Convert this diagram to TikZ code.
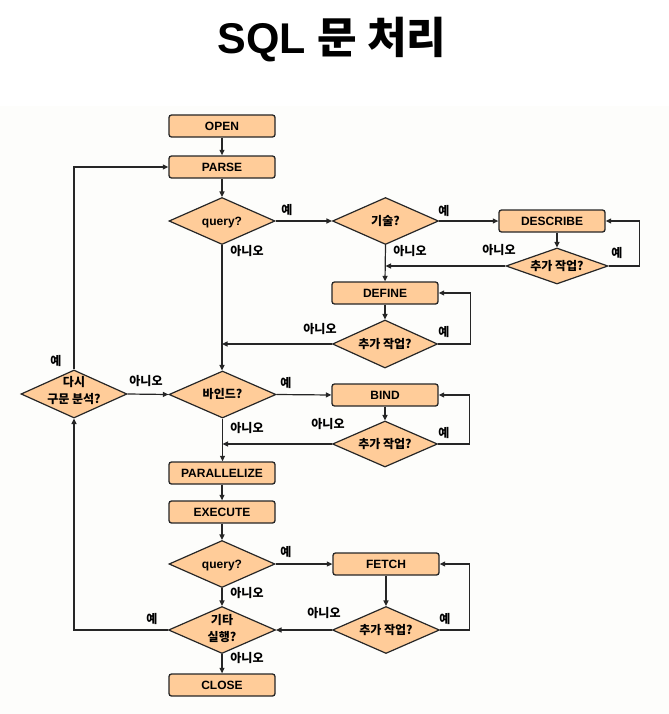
\documentclass[tikz,border=0pt]{standalone}
\usepackage{fontspec}
\setmainfont{Liberation Sans}
\newfontfamily\kr{Noto Sans CJK KR}
\usetikzlibrary{shapes.geometric,arrows.meta}
\definecolor{peach}{RGB}{255,204,153}
\definecolor{bgc}{RGB}{253,253,251}
\newcommand\ko[1]{{\kr #1}}
\newcommand\dt[1]{\raisebox{-.36em}[0pt][0pt]{#1}}
\newcommand\dtt[3]{\raisebox{#3}[0pt][0pt]{\begin{tabular}[b]{@{}c@{}}#1\\#2\end{tabular}}}
\tikzset{
  base/.style={font=\fontsize{12bp}{17bp}\selectfont\bfseries},
  box/.style={base,rectangle,rounded corners=2.5bp,draw=black!85,line width=1.3bp,fill=peach,minimum width=106bp,minimum height=22bp,inner sep=0pt},
  dia/.style={base,diamond,shape aspect=2.25,draw=black!85,line width=1.2bp,fill=peach,inner sep=0pt,minimum width=106bp,minimum height=47bp},
  lbl/.style={base,inner sep=0pt},
  arr/.style={line width=1.2bp,draw=black!85,-{Triangle[length=5.5bp,width=5bp]}},
  ln/.style={line width=1.2bp,draw=black!85},
}
\begin{document}
\begin{tikzpicture}[x=1bp,y=-1bp]
\useasboundingbox (0,0) rectangle (669,714);
\fill[bgc] (0,106) rectangle (669,714);
\node[inner sep=0pt,font=\fontsize{43bp}{50bp}\selectfont\bfseries] (title) at (332,40) {SQL \ko{문 처리}};

% boxes
\node[box] (open) at (222,126) {OPEN};
\node[box] (parse) at (222,167) {PARSE};
\node[box] (describe) at (552,221) {DESCRIBE};
\node[box] (define) at (385,293) {DEFINE};
\node[box] (bind) at (385,395) {BIND};
\node[box] (par) at (222,473) {PARALLELIZE};
\node[box] (exec) at (222,512) {EXECUTE};
\node[box] (fetch) at (386,564) {FETCH};
\node[box] (close) at (222,685) {CLOSE};

% diamonds
\node[dia] (q1) at (222,221) {\dt{query?}};
\node[dia] (d1) at (385.5,221) {\dt{\ko{기술?}}};
\node[dia,minimum width=102bp,minimum height=36bp] (a1) at (557,266) {\dt{\ko{추가 작업?}}};
\node[dia,minimum width=105bp,minimum height=48bp] (a2) at (385,344) {\dt{\ko{추가 작업?}}};
\node[dia,minimum width=106bp,minimum height=48bp] (r) at (74,394) {\dtt{\ko{다시}}{\ko{구문 분석?}}{-9.3bp}};
\node[dia,minimum width=107bp,minimum height=47bp] (b) at (222.5,394.5) {\dt{\ko{바인드?}}};
\node[dia,minimum width=105bp,minimum height=46bp] (a3) at (385,444) {\dt{\ko{추가 작업?}}};
\node[dia] (q2) at (222,564) {\dt{query?}};
\node[dia,minimum width=107bp] (a4) at (386,630) {\dt{\ko{추가 작업?}}};
\node[dia,minimum width=107bp] (e) at (222,630) {\dtt{\ko{기타}}{\ko{실행?}}{-11.3bp}};

% labels
\node[lbl] (l1) at (287,210) {\ko{예}};
\node[lbl] (l2) at (247,251) {\ko{아니오}};
\node[lbl] (l3) at (444,211) {\ko{예}};
\node[lbl] (l4) at (410,251) {\ko{아니오}};
\node[lbl] (l5) at (499,250) {\ko{아니오}};
\node[lbl] (l6) at (617,253) {\ko{예}};
\node[lbl] (l7) at (320,329) {\ko{아니오}};
\node[lbl] (l8) at (444,332) {\ko{예}};
\node[lbl] (l9) at (56,361) {\ko{예}};
\node[lbl] (l10) at (146,381) {\ko{아니오}};
\node[lbl] (l11) at (286,383) {\ko{예}};
\node[lbl] (l12) at (247,428) {\ko{아니오}};
\node[lbl] (l13) at (328,424) {\ko{아니오}};
\node[lbl] (l14) at (444,433) {\ko{예}};
\node[lbl] (l15) at (286,552) {\ko{예}};
\node[lbl] (l16) at (247,593) {\ko{아니오}};
\node[lbl] (l17) at (324,613) {\ko{아니오}};
\node[lbl] (l18) at (445,619) {\ko{예}};
\node[lbl] (l19) at (152,619) {\ko{예}};
\node[lbl] (l20) at (247,658) {\ko{아니오}};

% connectors
\draw[arr] (open) -- (parse);
\draw[arr] (parse) -- (q1.north);
\draw[arr] (q1.east) -- (d1.west);
\draw[arr] (d1.east) -- (describe.west);
\draw[arr] (describe.south -| a1.north) -- (a1.north);
\draw[arr] (a1.east) -- ++(31,0) |- (describe.east);
\draw[arr] (a1.west) -- (a1.west -| d1.south);
\draw[arr] (d1.south) -- (define.north);
\draw[arr] (define.south) -- (a2.north);
\draw[arr] (a2.east) -- ++(32,0) |- (define.east);
\draw[arr] (a2.west) -- (a2.west -| q1.south);
\draw[arr] (q1.south) -- (b.north -| q1.south);
\draw[arr] (r.east) -- (b.west);
\draw[arr] (r.north) |- (parse.west);
\draw[arr] (b.east) -- (bind.west);
\draw[arr] (bind.south) -- (a3.north);
\draw[arr] (a3.east) -- ++(31,0) |- (bind.east);
\draw[arr] (a3.west) -- (a3.west -| b.south);
\draw[arr] (b.south) -- (par.north -| b.south);
\draw[arr] (par) -- (exec);
\draw[arr] (exec) -- (q2.north);
\draw[arr] (q2.east) -- (fetch.west);
\draw[arr] (fetch.south -| a4.north) -- (a4.north);
\draw[arr] (a4.east) -- ++(29.5,0) |- (fetch.east);
\draw[arr] (a4.west) -- (e.east);
\draw[arr] (q2.south) -- (e.north);
\draw[arr] (e.west) -| (r.south);
\draw[arr] (e.south) -- (close.north);
\end{tikzpicture}
\end{document}
